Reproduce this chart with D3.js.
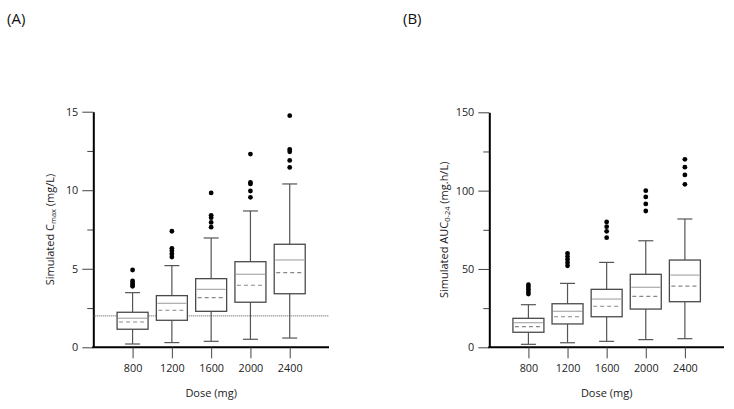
<!DOCTYPE html>
<html>
<head>
<meta charset="utf-8">
<script src="https://cdn.jsdelivr.net/npm/d3@7"></script>
<style>
  html, body { margin: 0; padding: 0; background: #fff; }
  svg { display: block; }
  text { font-family: "Segoe UI", "Open Sans", "Noto Sans", sans-serif; fill: #222; }
</style>
</head>
<body>
<svg id="chart" width="734" height="409"></svg>
<script>
// ---------- DATA ----------
const doses = ["800", "1200", "1600", "2000", "2400"];

// Panel A: simulated Cmax (mg/L)
const cmaxWhiskerLow  = [0.21, 0.30, 0.38, 0.51, 0.59];
const cmaxQ1          = [1.15, 1.72, 2.29, 2.87, 3.41];
const cmaxMedian      = [1.85, 2.80, 3.69, 4.65, 5.56];
const cmaxMean        = [1.61, 2.36, 3.16, 3.95, 4.75];
const cmaxQ3          = [2.23, 3.29, 4.37, 5.45, 6.56];
const cmaxWhiskerHigh = [3.48, 5.20, 6.96, 8.68, 10.40];
const cmaxOutliers    = [
  [4.92, 4.22, 4.10, 3.98, 3.88],
  [7.39, 6.30, 6.15, 5.95, 5.75],
  [9.83, 8.40, 8.25, 7.95, 7.65],
  [12.30, 10.50, 10.40, 9.95, 9.55],
  [14.75, 12.60, 12.45, 11.90, 11.45]
];
const cmaxThreshold = 2;
const cmaxTicks = [0, 5, 10, 15];
const cmaxMinorTicks = [2.5, 7.5, 12.5];

// Panel B: simulated AUC0-24 (mg.h/L)
const aucWhiskerLow  = [1.9, 2.9, 3.8, 4.9, 5.5];
const aucQ1          = [9.6, 14.9, 19.5, 24.4, 29.1];
const aucMedian      = [15.7, 23.0, 30.8, 38.3, 46.1];
const aucMean        = [13.2, 19.5, 26.2, 32.5, 39.1];
const aucQ3          = [18.5, 27.8, 37.0, 46.6, 55.7];
const aucWhiskerHigh = [27.2, 40.8, 54.2, 68.0, 81.9];
const aucOutliers    = [
  [40.0, 38.5, 37.0, 35.5, 34.0],
  [60.0, 58.0, 56.0, 54.0, 52.0],
  [80.0, 77.0, 74.0, 70.0],
  [100.0, 96.0, 91.5, 87.0],
  [120.0, 115.0, 110.0, 104.0]
];
const aucTicks = [0, 50, 100, 150];
const aucMinorTicks = [25, 75, 125];

// ---------- DRAW ----------
const svg = d3.select("#chart");

function buildRows(lo, q1, med, mean, q3, hi, out) {
  return doses.map((d, i) => ({
    dose: d, lo: lo[i], q1: q1[i], med: med[i], mean: mean[i], q3: q3[i], hi: hi[i], out: out[i]
  }));
}

function drawPanel(opts) {
  const g = svg.append("g");
  const x = d3.scalePoint().domain(doses).range([opts.left, opts.right]).padding(1);
  const y = d3.scaleLinear().domain(opts.yDomain).range([opts.bottom, opts.top]);
  const rows = opts.rows;
  const boxW = 31, capW = 15;

  // panel letter
  g.append("text").attr("x", opts.letterX).attr("y", 24)
    .style("font-size", "15px").style("fill", "#111").text(opts.letter);

  // y axis minor ticks
  g.append("g").attr("transform", `translate(${opts.left},0)`)
    .call(d3.axisLeft(y).tickValues(opts.minor).tickSize(6).tickFormat(""))
    .call(s => s.select(".domain").remove())
    .call(s => s.selectAll(".tick line").attr("stroke", "#444"));

  // y axis major
  g.append("g").attr("transform", `translate(${opts.left},0)`)
    .call(d3.axisLeft(y).tickValues(opts.ticks).tickSize(11).tickSizeOuter(0).tickPadding(4))
    .call(s => s.select(".domain").attr("stroke", "#000").attr("stroke-width", 2))
    .call(s => s.selectAll(".tick line").attr("stroke", "#444"))
    .call(s => s.selectAll(".tick text").style("font-size", "10.8px").style("fill", "#222"));

  // x axis
  g.append("g").attr("transform", `translate(0,${opts.bottom})`)
    .call(d3.axisBottom(x).tickSize(11).tickSizeOuter(0).tickPadding(6))
    .call(s => s.select(".domain").attr("stroke", "#000").attr("stroke-width", 2)
      .attr("d", `M${opts.left - 1},0H${opts.right}`))
    .call(s => s.selectAll(".tick line").attr("stroke", "#444"))
    .call(s => s.selectAll(".tick text").style("font-size", "10.8px").style("fill", "#222"));

  // axis titles
  g.append("text").attr("x", (opts.left + opts.right) / 2).attr("y", 396.5)
    .attr("text-anchor", "middle").style("font-size", "11px").text("Dose (mg)");

  const yt = g.append("text")
    .attr("transform", `translate(${opts.yTitleX},${(opts.top + opts.bottom) / 2}) rotate(-90)`)
    .attr("text-anchor", "middle").style("font-size", "11px");
  yt.append("tspan").text(opts.yTitle[0]);
  yt.append("tspan").attr("dy", 2).style("font-size", "7.5px").text(opts.yTitle[1]);
  yt.append("tspan").attr("dy", -2).text(opts.yTitle[2]);

  // threshold line
  if (opts.threshold != null) {
    g.append("line")
      .attr("x1", opts.left).attr("x2", opts.right)
      .attr("y1", y(opts.threshold)).attr("y2", y(opts.threshold))
      .attr("stroke", "#555").attr("stroke-width", 1).attr("stroke-dasharray", "1,1");
  }

  const bx = g.selectAll(".bx").data(rows).join("g").attr("class", "bx");
  // whiskers
  bx.append("line").attr("x1", d => x(d.dose)).attr("x2", d => x(d.dose))
    .attr("y1", d => y(d.hi)).attr("y2", d => y(d.q3))
    .attr("stroke", "#555").attr("stroke-width", 1.2);
  bx.append("line").attr("x1", d => x(d.dose)).attr("x2", d => x(d.dose))
    .attr("y1", d => y(d.q1)).attr("y2", d => y(d.lo))
    .attr("stroke", "#555").attr("stroke-width", 1.2);
  // caps
  bx.append("line").attr("x1", d => x(d.dose) - capW / 2).attr("x2", d => x(d.dose) + capW / 2)
    .attr("y1", d => y(d.hi)).attr("y2", d => y(d.hi))
    .attr("stroke", "#555").attr("stroke-width", 1.2);
  bx.append("line").attr("x1", d => x(d.dose) - capW / 2).attr("x2", d => x(d.dose) + capW / 2)
    .attr("y1", d => y(d.lo)).attr("y2", d => y(d.lo))
    .attr("stroke", "#555").attr("stroke-width", 1.2);
  // box
  bx.append("rect").attr("x", d => x(d.dose) - boxW / 2).attr("width", boxW)
    .attr("y", d => y(d.q3)).attr("height", d => y(d.q1) - y(d.q3))
    .attr("fill", "#fff").attr("stroke", "#4a4a4a").attr("stroke-width", 1.3);
  // median (solid, light gray)
  bx.append("line").attr("x1", d => x(d.dose) - boxW / 2 + 1).attr("x2", d => x(d.dose) + boxW / 2 - 1)
    .attr("y1", d => y(d.med)).attr("y2", d => y(d.med))
    .attr("stroke", "#aaa").attr("stroke-width", 1.2);
  // mean (dashed)
  bx.append("line").attr("x1", d => x(d.dose) - boxW / 2 + 2).attr("x2", d => x(d.dose) + boxW / 2 - 1)
    .attr("y1", d => y(d.mean)).attr("y2", d => y(d.mean))
    .attr("stroke", "#888").attr("stroke-width", 1.2).attr("stroke-dasharray", "4,3");
  // outliers
  bx.selectAll("circle").data(d => d.out.map(v => ({ dose: d.dose, v })))
    .join("circle").attr("cx", d => x(d.dose)).attr("cy", d => y(d.v))
    .attr("r", 2.4).attr("fill", "#000");
}

drawPanel({
  letter: "(A)", letterX: 7,
  left: 93.3, right: 329, top: 111.7, bottom: 347.3,
  yDomain: [0, 15], ticks: cmaxTicks, minor: cmaxMinorTicks,
  yTitle: ["Simulated C", "max", " (mg/L)"], yTitleX: 54,
  threshold: cmaxThreshold,
  rows: buildRows(cmaxWhiskerLow, cmaxQ1, cmaxMedian, cmaxMean, cmaxQ3, cmaxWhiskerHigh, cmaxOutliers)
});

drawPanel({
  letter: "(B)", letterX: 403,
  left: 489.3, right: 724, top: 112.3, bottom: 347.3,
  yDomain: [0, 150], ticks: aucTicks, minor: aucMinorTicks,
  yTitle: ["Simulated AUC", "0-24", " (mg.h/L)"], yTitleX: 447.5,
  threshold: null,
  rows: buildRows(aucWhiskerLow, aucQ1, aucMedian, aucMean, aucQ3, aucWhiskerHigh, aucOutliers)
});
</script>
</body>
</html>
